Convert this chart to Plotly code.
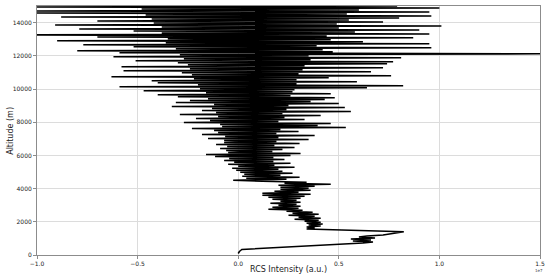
import plotly.graph_objects as go

# --- Near-field part of the profile (overlap region and boundary layer peak) ---
ALT_NEAR = [90, 150, 210, 270, 330, 720, 780, 840, 900, 960, 1020, 1080, 1140,
            1200, 1300, 1400]
RCS_NEAR = [0.0, 0.002, 0.006, 0.012, 0.018, 0.62, 0.67, 0.57, 0.66, 0.56, 0.68,
            0.60, 0.64, 0.72, 0.77, 0.823]

# --- Lower troposphere (1560 - 4440 m) ---
ALT_LOW = [1560, 1620, 1680, 1740, 1800, 1860, 1920, 1980, 2040, 2100,
           2160, 2220, 2280, 2340, 2400, 2460, 2520, 2580, 2640, 2700,
           2760, 2820, 2880, 2940, 3000, 3060, 3120, 3180, 3240, 3300,
           3360, 3420, 3480, 3540, 3600, 3660, 3720, 3780, 3840, 3900,
           3960, 4020, 4080, 4140, 4200, 4260, 4320, 4380, 4440]
RCS_LOW = [0.34, 0.38, 0.34, 0.41, 0.35, 0.42, 0.34, 0.41, 0.33, 0.40,
           0.28, 0.41, 0.30, 0.38, 0.25, 0.40, 0.27, 0.37, 0.24, 0.32,
           0.15, 0.30, 0.17, 0.31, 0.20, 0.29, 0.16, 0.31, 0.21, 0.29,
           0.17, 0.31, 0.15, 0.33, 0.12, 0.36, 0.12, 0.30, 0.18, 0.36,
           0.21, 0.35, 0.21, 0.38, 0.20, 0.46, 0.23, 0.34, 0.12]

# --- Free troposphere, noisy upper part (4500 - 15000 m) ---
ALT_HIGH = [4500, 4560, 4620, 4680, 4740, 4800, 4860, 4920, 4980, 5040,
            5100, 5160, 5220, 5280, 5340, 5400, 5460, 5520, 5580, 5640,
            5700, 5760, 5820, 5880, 5940, 6000, 6060, 6120, 6180, 6240,
            6300, 6360, 6420, 6480, 6540, 6600, 6660, 6720, 6780, 6840,
            6900, 6960, 7020, 7080, 7140, 7200, 7260, 7320, 7380, 7440,
            7500, 7560, 7620, 7680, 7740, 7800, 7860, 7920, 7980, 8040,
            8100, 8160, 8220, 8280, 8340, 8400, 8460, 8520, 8580, 8640,
            8700, 8760, 8820, 8880, 8940, 9000, 9060, 9120, 9180, 9240,
            9300, 9360, 9420, 9480, 9540, 9600, 9660, 9720, 9780, 9840,
            9900, 9960, 10020, 10080, 10140, 10200, 10260, 10320, 10380, 10440,
            10500, 10560, 10620, 10680, 10740, 10800, 10860, 10920, 10980, 11040,
            11100, 11160, 11220, 11280, 11340, 11400, 11460, 11520, 11580, 11640,
            11700, 11760, 11820, 11880, 11940, 12000, 12060, 12120, 12180, 12240,
            12300, 12360, 12420, 12480, 12540, 12600, 12660, 12720, 12780, 12840,
            12900, 12960, 13020, 13080, 13140, 13200, 13260, 13320, 13380, 13440,
            13500, 13560, 13620, 13680, 13740, 13800, 13860, 13920, 13980, 14040,
            14100, 14160, 14220, 14280, 14340, 14400, 14460, 14520, 14580, 14640,
            14700, 14760, 14820, 14880, 14940, 15000]
RCS_HIGH = [-0.025, 0.24, 0.04, 0.305, 0.02, 0.21, 0.03, 0.27, 0.01, 0.22,
            -0.01, 0.20, -0.03, 0.28, 0.00, 0.18, -0.05, 0.26, -0.02, 0.175,
            -0.07, 0.23, -0.045, 0.175, -0.115, 0.26, -0.16, 0.31, -0.05, 0.17,
            -0.06, 0.22, -0.09, 0.28, -0.055, 0.18, -0.11, 0.305, -0.07, 0.19,
            -0.07, 0.35, -0.15, 0.20, -0.065, 0.38, -0.18, 0.19, -0.10, 0.30,
            -0.12, 0.21, -0.23, 0.535, -0.08, 0.395, -0.09, 0.46, -0.27, 0.20,
            -0.14, 0.33, -0.21, 0.23, -0.10, 0.41, -0.29, 0.22, -0.11, 0.56,
            -0.18, 0.24, -0.13, 0.53, -0.33, 0.25, -0.12, 0.50, -0.31, 0.36,
            -0.24, 0.43, -0.15, 0.48, -0.30, 0.26, -0.40, 0.46, -0.16, 0.27,
            -0.47, 0.28, -0.19, 0.64, -0.59, 0.82, -0.20, 0.29, -0.40, 0.59,
            -0.43, 0.29, -0.22, 0.45, -0.63, 0.76, -0.23, 0.30, -0.28, 0.66,
            -0.57, 0.32, -0.24, 0.72, -0.58, 0.33, -0.25, 0.74, -0.30, 0.77,
            -0.51, 0.36, -0.27, 0.81, -0.62, 0.35, -0.29, 1.60, -0.59, 0.47,
            -0.80, 0.42, -0.31, 0.96, -0.52, 0.39, -0.77, 0.95, -0.36, 0.62,
            -0.90, 0.46, -0.35, 0.87, -0.70, 0.44, -1.02, 0.95, -0.38, 0.58,
            -0.52, 0.90, -0.79, 0.50, -0.38, 1.01, -0.91, 0.49, -0.42, 0.72,
            -0.70, 0.55, -0.43, 0.80, -0.88, 0.96, -0.46, 0.54, -1.02, 0.95,
            -1.02, 0.60, -0.48, 1.00, -1.02, 0.79]

X_TICKS = [-1.0, -0.5, 0.0, 0.5, 1.0, 1.5]
Y_TICKS = [0, 2000, 4000, 6000, 8000, 10000, 12000, 14000]

altitude = ALT_NEAR + ALT_LOW + ALT_HIGH
rcs = RCS_NEAR + RCS_LOW + RCS_HIGH

fig = go.Figure()
fig.add_trace(go.Scatter(x=rcs, y=altitude, mode="lines",
                         line=dict(color="black", width=1.5), showlegend=False))

axis_common = dict(showgrid=True, gridcolor="#dcdcdc", gridwidth=1,
                   showline=True, linecolor="#8c8c8c", linewidth=1, mirror=True,
                   ticks="outside", ticklen=3, tickcolor="#8c8c8c",
                   tickfont=dict(family="DejaVu Sans", size=6, color="#222"),
                   zeroline=False)

fig.update_xaxes(range=[-1.0, 1.5], tickvals=X_TICKS, tickformat=".1f", **axis_common)
fig.update_yaxes(range=[0, 15000], tickvals=Y_TICKS, tickformat="d", **axis_common)

fig.update_layout(
    width=550, height=276,
    margin=dict(l=37, r=7, t=5, b=21),
    plot_bgcolor="white", paper_bgcolor="white",
    font=dict(family="DejaVu Sans"),
    annotations=[
        dict(text="RCS Intensity (a.u.)", xref="paper", yref="paper",
             x=0.5, y=-0.057, xanchor="center", yanchor="middle", showarrow=False,
             font=dict(size=8, color="#222")),
        dict(text="Altitude (m)", xref="paper", yref="paper",
             x=-0.053, y=0.5, xanchor="center", yanchor="middle", showarrow=False,
             textangle=-90, font=dict(size=8, color="#222")),
        dict(text="1e7", xref="paper", yref="paper",
             x=0.998, y=-0.064, xanchor="center", yanchor="middle", showarrow=False,
             font=dict(size=4, color="#444")),
    ],
)

fig.write_html("out.html", config={"displayModeBar": False},
               post_script="document.body.style.margin='0';document.body.style.overflow='hidden';")
